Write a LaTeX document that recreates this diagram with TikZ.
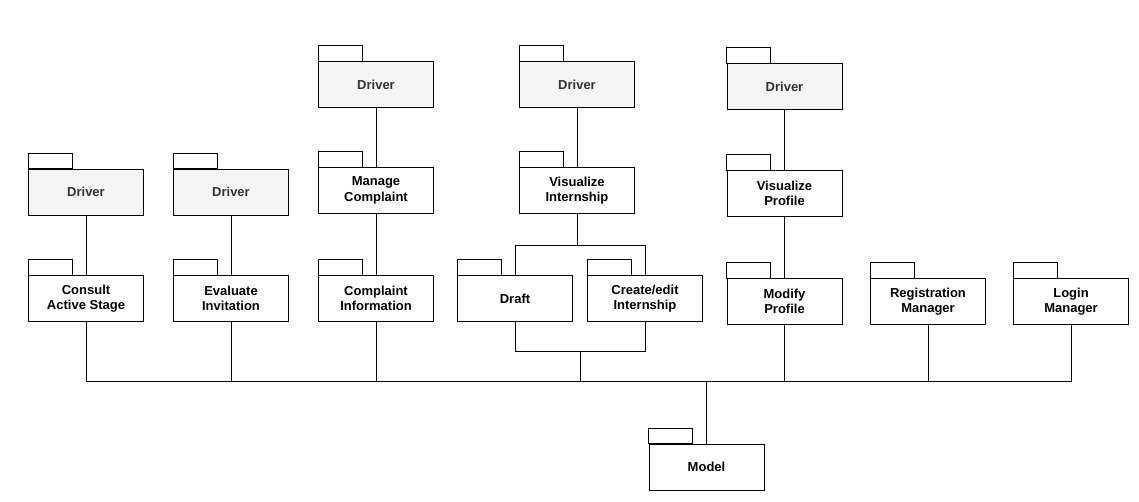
\documentclass[tikz,border=0pt]{standalone}
\usepackage{fontspec}
\setmainfont{Liberation Sans}
\usepackage{tikz}
\usetikzlibrary{calc,positioning}
\definecolor{DriverFill}{HTML}{F5F5F5}
\definecolor{DriverText}{HTML}{333333}
\definecolor{Ink}{HTML}{000000}

\begin{document}
\begin{tikzpicture}[x=1pt,y=-1pt,
    every node/.style={font=\fontsize{13}{15.5}\selectfont\bfseries},
    pkg/.style={draw=Ink,fill=white,line width=0.85pt,minimum width=115pt,minimum height=46pt,
      align=center,inner sep=2pt},
    drv/.style={pkg,fill=DriverFill,text=DriverText},
    pkgtab/.style={draw=Ink,fill=white,line width=0.85pt},
    link/.style={draw=Ink,line width=0.7pt}]
    \useasboundingbox (0,0) rectangle (1139,501);

    % drivers
    \node[drv] (drvA) at (86,192) {Driver};
    \node[drv] (drvB) at (231,192) {Driver};
    \node[drv] (drvC) at (376,84.5) {Driver};
    \node[drv] (drvD) at (577,84.5) {Driver};
    \node[drv] (drvE) at (784.5,86.5) {Driver};

    % packages
    \node[pkg] (consult) at (86,298.5) {Consult\\Active Stage};
    \node[pkg] (evaluate) at (231,298.5) {Evaluate\\Invitation};
    \node[pkg] (manage) at (376,190.5) {Manage\\Complaint};
    \node[pkg] (cplinfo) at (376,298.5) {Complaint\\Information};
    \node[pkg] (visint) at (577,190.5) {Visualize\\Internship};
    \node[pkg] (draft) at (515,298.5) {Draft};
    \node[pkg] (create) at (645,298.5) {Create/edit\\Internship};
    \node[pkg] (visprof) at (784.5,193.5) {Visualize\\Profile};
    \node[pkg] (modify) at (784.5,301.5) {Modify\\Profile};
    \node[pkg] (regman) at (928,301.5) {Registration\\Manager};
    \node[pkg] (login) at (1071,301.5) {Login\\Manager};
    \node[pkg] (model) at (706.5,467) {Model};

    % tabs
    \foreach \n in {drvA,drvB,drvC,drvD,drvE,consult,evaluate,manage,cplinfo,visint,draft,create,visprof,modify,regman,login,model} {
      \draw[pkgtab] (\n.north west) rectangle ++(44,-15.5);
    }

    % driver links
    \draw[link] (drvA) -- (consult);
    \draw[link] (drvB) -- (evaluate);
    \draw[link] (drvC) -- (manage);
    \draw[link] (manage) -- (cplinfo);
    \draw[link] (drvD) -- (visint);
    \draw[link] (drvE) -- (visprof);
    \draw[link] (visprof) -- (modify);

    % internship split and merge
    \draw[link] (visint.south) -- ++(0,31) coordinate (split);
    \draw[link] (draft.north) |- (split) -| (create.north);
    \draw[link] (draft.south) -- ++(0,29) -| (create.south);
    \coordinate (merge) at ($(draft.south)!0.5!(create.south)+(0,29)$);

    % bus to model
    \coordinate (bus) at (0,381);
    \draw[link] (consult.south) -- (consult.south |- bus) -- (login.south |- bus) -- (login.south);
    \foreach \n in {evaluate,cplinfo,modify,regman} {
      \draw[link] (\n.south) -- (\n.south |- bus);
    }
    \draw[link] (merge) -- (merge |- bus);
    \draw[link] (model.north) -- (model.north |- bus);
  \end{tikzpicture}
\end{document}
